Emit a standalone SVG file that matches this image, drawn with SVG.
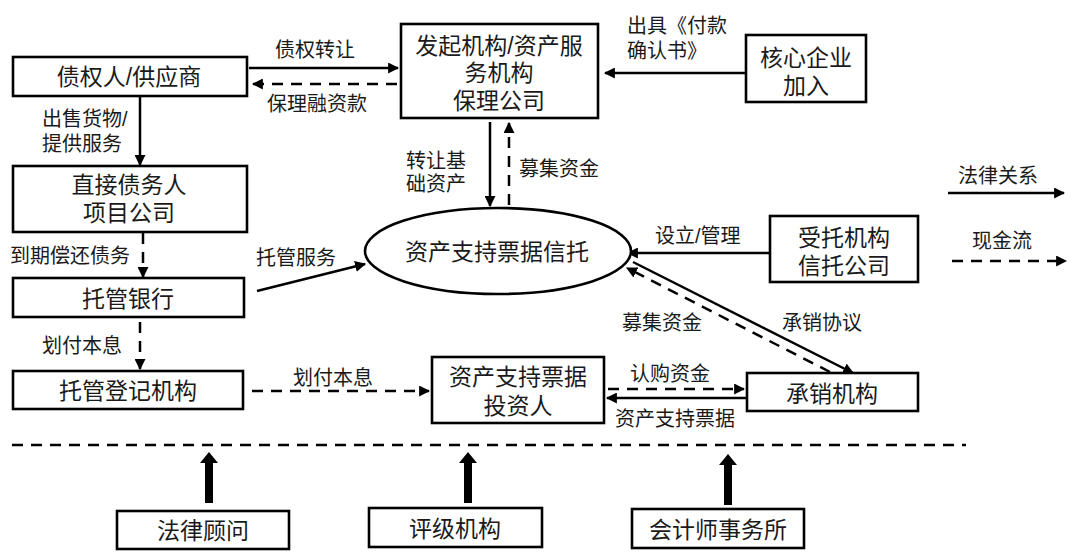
<svg xmlns="http://www.w3.org/2000/svg" width="1080" height="557" viewBox="0 0 1080 557">
<defs>
<style>
.box{fill:#fff;stroke:#000;stroke-width:2.6}
.t{font-family:"Liberation Sans","Noto Sans CJK SC",sans-serif;font-size:23px;fill:#1a1a1a;text-anchor:middle}
.l{font-family:"Liberation Sans","Noto Sans CJK SC",sans-serif;font-size:20px;fill:#1a1a1a}
.s{fill:none;stroke:#000;stroke-width:2.5}
.d{fill:none;stroke:#000;stroke-width:2.5;stroke-dasharray:11 8}
.big{fill:#000}
</style>
<marker id="ah" viewBox="0 0 10 10" refX="9" refY="5" markerWidth="11" markerHeight="11" markerUnits="userSpaceOnUse" orient="auto">
<path d="M0,0 L10,5 L0,10 z" fill="#000"/>
</marker>
</defs>
<rect width="1080" height="557" fill="#fff"/>

<g id="connectors">
<line class="s" x1="249" y1="68" x2="398" y2="68" marker-end="url(#ah)"/>
<line class="d" x1="397" y1="84" x2="253" y2="84" marker-end="url(#ah)"/>
<line class="s" x1="745" y1="73" x2="605" y2="73" marker-end="url(#ah)"/>
<line class="s" x1="140" y1="97" x2="140" y2="165" marker-end="url(#ah)"/>
<line class="s" x1="490" y1="122" x2="490" y2="206" marker-end="url(#ah)"/>
<line class="d" x1="509" y1="205" x2="509" y2="123" marker-end="url(#ah)"/>
<line class="d" x1="143" y1="233" x2="143" y2="277" marker-end="url(#ah)"/>
<line class="s" x1="257" y1="291" x2="365" y2="264" marker-end="url(#ah)"/>
<line class="s" x1="769" y1="253" x2="628" y2="253" marker-end="url(#ah)"/>
<line class="s" x1="633" y1="262" x2="853" y2="373" marker-end="url(#ah)"/>
<line class="d" x1="830" y1="372" x2="627" y2="268" marker-end="url(#ah)"/>
<line class="d" x1="140" y1="322" x2="140" y2="369" marker-end="url(#ah)"/>
<line class="d" x1="252" y1="391" x2="429" y2="391" marker-end="url(#ah)"/>
<line class="d" x1="608" y1="389" x2="744" y2="389" marker-end="url(#ah)"/>
<line class="s" x1="746" y1="398" x2="607" y2="398" marker-end="url(#ah)"/>
<line class="d" x1="12" y1="445" x2="966" y2="445" stroke-width="3"/>
<path class="big" d="M205,503 L205,463 L200,463 L209,452 L218,463 L213,463 L213,503 Z"/>
<path class="big" d="M464,503 L464,463 L459,463 L468,452 L477,463 L472,463 L472,503 Z"/>
<path class="big" d="M724,505 L724,465 L719,465 L728,454 L737,465 L732,465 L732,505 Z"/>
<line class="s" x1="948" y1="193" x2="1064" y2="193" marker-end="url(#ah)"/>
<line class="d" x1="952" y1="261" x2="1066" y2="261" marker-end="url(#ah)"/>
</g>

<g id="labels">
<text class="l" x="275" y="57">债权转让</text>
<text class="l" x="267" y="111">保理融资款</text>
<text class="l" x="627" y="33">出具《付款</text>
<text class="l" x="627" y="58">确认书》</text>
<text class="l" x="42" y="126">出售货物/</text>
<text class="l" x="42" y="151">提供服务</text>
<text class="l" x="406" y="168">转让基</text>
<text class="l" x="406" y="191">础资产</text>
<text class="l" x="519" y="176">募集资金</text>
<text class="l" x="10" y="263">到期偿还债务</text>
<text class="l" x="256" y="265">托管服务</text>
<text class="l" x="655" y="243">设立/管理</text>
<text class="l" x="622" y="330">募集资金</text>
<text class="l" x="782" y="330">承销协议</text>
<text class="l" x="42" y="353">划付本息</text>
<text class="l" x="293" y="385">划付本息</text>
<text class="l" x="630" y="381">认购资金</text>
<text class="l" x="615" y="426">资产支持票据</text>
<text class="l" x="958" y="183">法律关系</text>
<text class="l" x="972" y="248">现金流</text>
</g>

<g id="n-creditor">
<rect class="box" x="13" y="57" width="234" height="39"/>
<text class="t" x="129" y="85">债权人/供应商</text>
</g>
<g id="n-originator">
<rect class="box" x="401" y="24" width="197" height="94"/>
<text class="t" x="499" y="54">发起机构/资产服</text>
<text class="t" x="499" y="81">务机构</text>
<text class="t" x="499" y="109">保理公司</text>
</g>
<g id="n-core">
<rect class="box" x="746" y="35" width="120" height="67"/>
<text class="t" x="806" y="66">核心企业</text>
<text class="t" x="806" y="94">加入</text>
</g>
<g id="n-debtor">
<rect class="box" x="13" y="166" width="234" height="66"/>
<text class="t" x="129" y="193">直接债务人</text>
<text class="t" x="129" y="221">项目公司</text>
</g>
<g id="n-trust">
<ellipse class="box" cx="498" cy="251" rx="133" ry="43"/>
<text class="t" x="497" y="260">资产支持票据信托</text>
</g>
<g id="n-trustee">
<rect class="box" x="770" y="216" width="148" height="66"/>
<text class="t" x="844" y="246">受托机构</text>
<text class="t" x="844" y="274">信托公司</text>
</g>
<g id="n-bank">
<rect class="box" x="13" y="278" width="231" height="39"/>
<text class="t" x="128" y="307">托管银行</text>
</g>
<g id="n-registrar">
<rect class="box" x="13" y="371" width="230" height="38"/>
<text class="t" x="128" y="399">托管登记机构</text>
</g>
<g id="n-investor">
<rect class="box" x="432" y="357" width="172" height="66"/>
<text class="t" x="518" y="385">资产支持票据</text>
<text class="t" x="518" y="414">投资人</text>
</g>
<g id="n-underwriter">
<rect class="box" x="747" y="373" width="171" height="38"/>
<text class="t" x="832" y="402">承销机构</text>
</g>
<g id="n-legal">
<rect class="box" x="117" y="511" width="172" height="38"/>
<text class="t" x="203" y="539">法律顾问</text>
</g>
<g id="n-rating">
<rect class="box" x="369" y="508" width="173" height="39"/>
<text class="t" x="455" y="537">评级机构</text>
</g>
<g id="n-accountant">
<rect class="box" x="632" y="509" width="172" height="39"/>
<text class="t" x="718" y="538">会计师事务所</text>
</g>
</svg>
